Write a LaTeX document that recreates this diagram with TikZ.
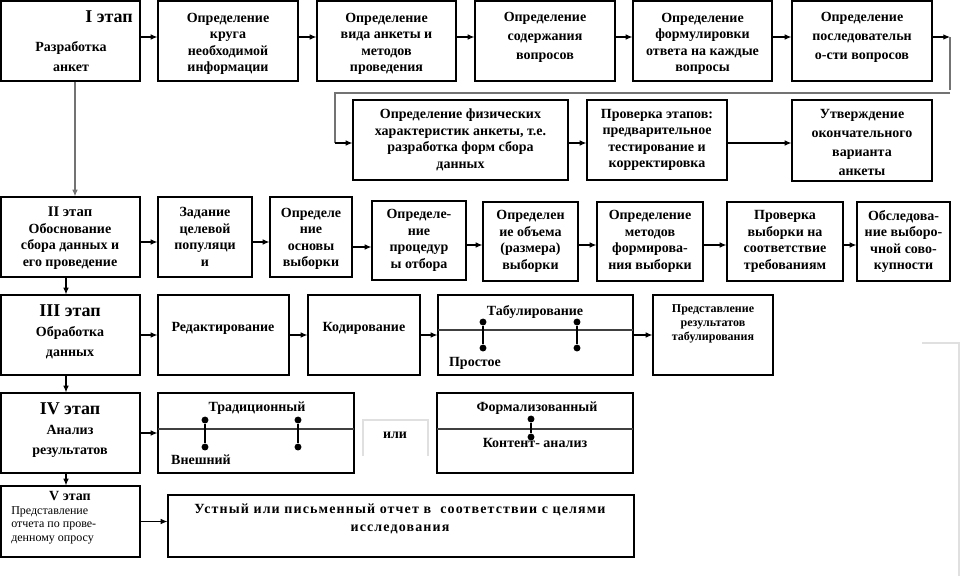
\documentclass[tikz,border=0pt]{standalone}
\usepackage{fontspec}
\setmainfont{Liberation Serif}
\newfontfamily\spacedfont{Liberation Serif}[LetterSpace=8]
\usetikzlibrary{arrows.meta,fit}
\newcommand\bodyf{\fontsize{10.5}{12.4}\selectfont\bfseries}
\newcommand\widef{\fontsize{10.5}{14.2}\selectfont\bfseries}
\newcommand\bigf{\fontsize{13.5}{15}\selectfont\bfseries}
\begin{document}
\begin{tikzpicture}[x=0.75pt,y=-0.75pt,
  box/.style={draw=black, line width=0.9pt, inner sep=0pt},
  lbl/.style={inner sep=0pt, align=center, font=\bodyf},
  wlbl/.style={lbl, font=\widef},
  arr/.style={-{Latex[length=5pt,width=4.2pt]}, line width=0.8pt, draw=black},
  conn/.style={draw=black!55, line width=0.9pt},
  divider/.style={draw=black!75, line width=0.9pt},
  dot/.style={circle, fill=black, inner sep=0pt, minimum size=5.2pt},
  stem/.style={draw=black, line width=1.4pt},
  faint/.style={draw=black!12, line width=0.8pt}]
\useasboundingbox (0,0) rectangle (961,576);

% ---------- Stage I ----------
\node[box, fit={(1,1)(140,81)}] (b1) {};
\node[lbl, anchor=east, font=\bigf] (t1a) at (133,17) {I этап};
\node[lbl, font=\fontsize{10.5}{15}\selectfont\bfseries] (t1b) at (71,57) {Разработка\\анкет};
\node[box, fit={(158,1)(298,81)}] (b2) {};
\node[lbl] (l2) at ([yshift=-2pt]b2.center) {Определение\\круга\\необходимой\\информации};
\node[box, fit={(317,1)(456,81)}] (b3) {};
\node[lbl] (l3) at ([yshift=-2pt]b3.center) {Определение\\вида анкеты и\\методов\\проведения};
\node[box, fit={(475,1)(615,81)}] (b4) {};
\node[wlbl] (l4) at ([yshift=3pt]b4.center) {Определение\\содержания\\вопросов};
\node[box, fit={(633,1)(772,81)}] (b5) {};
\node[lbl] (l5) at ([yshift=-2pt]b5.center) {Определение\\формулировки\\ответа на каждые\\вопросы};
\node[box, fit={(792,1)(932,81)}] (b6) {};
\node[wlbl] (l6) at ([yshift=3pt]b6.center) {Определение\\последовательн\\о-сти вопросов};

\node[box, fit={(353,100)(568,180)}] (b7) {};
\node[lbl] (l7) at (b7.center) {Определение физических\\характеристик анкеты, т.е.\\разработка форм сбора\\данных};
\node[box, fit={(587,100)(727,180)}] (b8) {};
\node[lbl] (l8) at (b8.center) {Проверка этапов:\\предварительное\\тестирование и\\корректировка};
\node[box, fit={(792,100)(932,181)}] (b9) {};
\node[wlbl] (l9) at ([yshift=-1.5pt]b9.center) {Утверждение\\окончательного\\варианта\\анкеты};

\coordinate (r1) at (0,37);
\coordinate (r2) at (0,143);
\draw[arr] (b1.east |- r1) -- (b2.west |- r1);
\draw[arr] (b2.east |- r1) -- (b3.west |- r1);
\draw[arr] (b3.east |- r1) -- (b4.west |- r1);
\draw[arr] (b4.east |- r1) -- (b5.west |- r1);
\draw[arr] (b5.east |- r1) -- (b6.west |- r1);
\coordinate (c1) at (950,37);
\coordinate (c2) at (950,90);
\coordinate (c3) at (950,93);
\coordinate (c4) at (335,93);
\coordinate (c5) at (335,143);
\draw[arr] (b6.east |- r1) -- (c1);
\draw[conn] (c1) -- (c2);
\draw[conn] (c3) -- (c4) -- (c5);
\draw[arr] (c5) -- (b7.west |- c5);
\draw[arr] (b7.east |- r2) -- (b8.west |- r2);
\draw[arr] (b8.east |- r2) -- (b9.west |- r2);

% ---------- Stage II ----------
\node[box, fit={(1,197)(140,277)}] (bII) {};
\node[lbl] (tII) at (70,238) {{\fontsize{11}{12.5}\selectfont II этап}\\Обоснование\\сбора данных и\\его проведение};
\node[box, fit={(158,197)(252,277)}] (bZ) {};
\node[lbl] (lZ) at (bZ.center) {Задание\\целевой\\популяци\\и};
\node[box, fit={(270,197)(352,277)}] (bO) {};
\node[lbl] (lO) at ([yshift=-1.5pt]bO.center) {Определе\\ние\\основы\\выборки};
\node[box, fit={(372,201)(466,280)}] (bP) {};
\node[lbl] (lP) at (bP.center) {Определе-\\ние\\процедур\\ы отбора};
\node[box, fit={(483,202)(578,281)}] (bQ) {};
\node[lbl] (lQ) at (bQ.center) {Определен\\ие объема\\(размера)\\выборки};
\node[box, fit={(597,202)(703,281)}] (bM) {};
\node[lbl] (lM) at (bM.center) {Определение\\методов\\формирова-\\ния выборки};
\node[box, fit={(727,202)(843,281)}] (bR) {};
\node[lbl] (lR) at (bR.center) {Проверка\\выборки на\\соответствие\\требованиям};
\node[box, fit={(857,202)(950,281)}] (bS) {};
\node[lbl] (lS) at (bS.center) {Обследова-\\ние выборо-\\чной сово-\\купности};

\coordinate (v1) at (75,0);
\coordinate (v2) at (66,0);
\draw[conn, -{Latex[length=5pt,width=4.2pt]}] (b1.south -| v1) -- (bII.north -| v1);
\coordinate (r3) at (0,242);
\coordinate (r3b) at (0,245);
\coordinate (r3c) at (0,247);
\draw[arr] (bII.east |- r3) -- (bZ.west |- r3);
\draw[arr] (bZ.east |- r3) -- (bO.west |- r3);
\draw[arr] (bO.east |- r3c) -- (bP.west |- r3c);
\draw[arr] (bP.east |- r3b) -- (bQ.west |- r3b);
\draw[arr] (bQ.east |- r3b) -- (bM.west |- r3b);
\draw[arr] (bM.east |- r3b) -- (bR.west |- r3b);
\draw[arr] (bR.east |- r3b) -- (bS.west |- r3b);

% ---------- Stage III ----------
\node[box, fit={(1,295)(140,375)}] (bIII) {};
\node[lbl, font=\fontsize{10.5}{15}\selectfont\bfseries] (tIII) at (70,332) {{\bigf III этап}\\Обработка\\данных};
\node[box, fit={(158,295)(289,375)}] (bRed) {};
\node[lbl] (tRed) at (223,328) {Редактирование};
\node[box, fit={(308,295)(420,375)}] (bKod) {};
\node[lbl] (tKod) at (364,328) {Кодирование};
\node[box, fit={(438,295)(633,375)}] (bTab) {};
\node[lbl] (tTab) at (535,312) {Табулирование};
\node[lbl] (tPro) at (475,363) {Простое};
\draw[divider] (438,330) -- (633,330);
\node[dot] (d1) at (483,322) {};
\node[dot] (d2) at (483,348) {};
\node[dot] (d3) at (577,322) {};
\node[dot] (d4) at (577,348) {};
\draw[stem] (d1) -- (d2);
\draw[stem] (d3) -- (d4);
\node[box, fit={(653,295)(773,375)}] (bRes) {};
\node[lbl, font=\fontsize{9}{10.6}\selectfont\bfseries] (tRes) at (713,324) {Представление\\результатов\\табулирования};

\draw[arr] (bII.south -| v2) -- (bIII.north -| v2);
\draw[arr] (bIII.east) -- (bRed.west);
\draw[arr] (bRed.east) -- (bKod.west);
\draw[arr] (bKod.east) -- (bTab.west);
\draw[arr] (bTab.east) -- (bRes.west);

% ---------- Stage IV ----------
\node[box, fit={(1,393)(140,473)}] (bIV) {};
\node[lbl, font=\fontsize{10.5}{15}\selectfont\bfseries] (tIV) at (70,430) {{\bigf IV этап}\\Анализ\\результатов};
\node[box, fit={(158,393)(354,473)}] (bTrad) {};
\node[lbl] (tTrad) at (257,408) {Традиционный};
\node[lbl] (tVn) at (201,460) {Внешний};
\draw[divider] (158,429) -- (354,429);
\node[dot] (d5) at (205,420) {};
\node[dot] (d6) at (205,447) {};
\node[dot] (d7) at (298,420) {};
\node[dot] (d8) at (298,447) {};
\draw[stem] (d5) -- (d6);
\draw[stem] (d7) -- (d8);
\draw[faint] (363,456) -- (363,420) -- (428,420) -- (428,456);
\node[lbl] (tIli) at (395,435) {или};
\node[box, fit={(437,393)(633,473)}] (bForm) {};
\node[lbl] (tFor) at (537,408) {Формализованный};
\draw[divider] (437,429) -- (633,429);
\node[lbl] (tKont) at (535,443) {Контент- анализ};
\node[dot] (d9) at (531,419) {};
\node[dot] (d10) at (531,437) {};
\draw[stem] (d9) -- (d10);

\draw[arr] (bIII.south -| v2) -- (bIV.north -| v2);
\draw[arr] (bIV.east) -- (bTrad.west);

% ---------- Stage V ----------
\node[box, fit={(1,486)(140,557)}] (bV) {};
\node[lbl] (tV1) at (70,496) {V этап};
\node[lbl, anchor=west, align=left, font=\fontsize{9}{10.2}\selectfont] (tV2) at (11,525) {Представление\\отчета по прове-\\денному опросу};
\node[box, fit={(168,495)(634,557)}] (bUst) {};
\node[lbl, font=\fontsize{10.5}{13.5}\selectfont\bfseries\spacedfont] (tUst) at (400,519) {Устный или письменный отчет в~ соответствии с целями\\исследования};

\draw[arr] (bIV.south -| v2) -- (bV.north -| v2);
\draw[arr] (bV.east) -- (bUst.west |- bV.east);

\draw[faint] (922,343) -- (959,343) -- (959,576);
\end{tikzpicture}
\end{document}
